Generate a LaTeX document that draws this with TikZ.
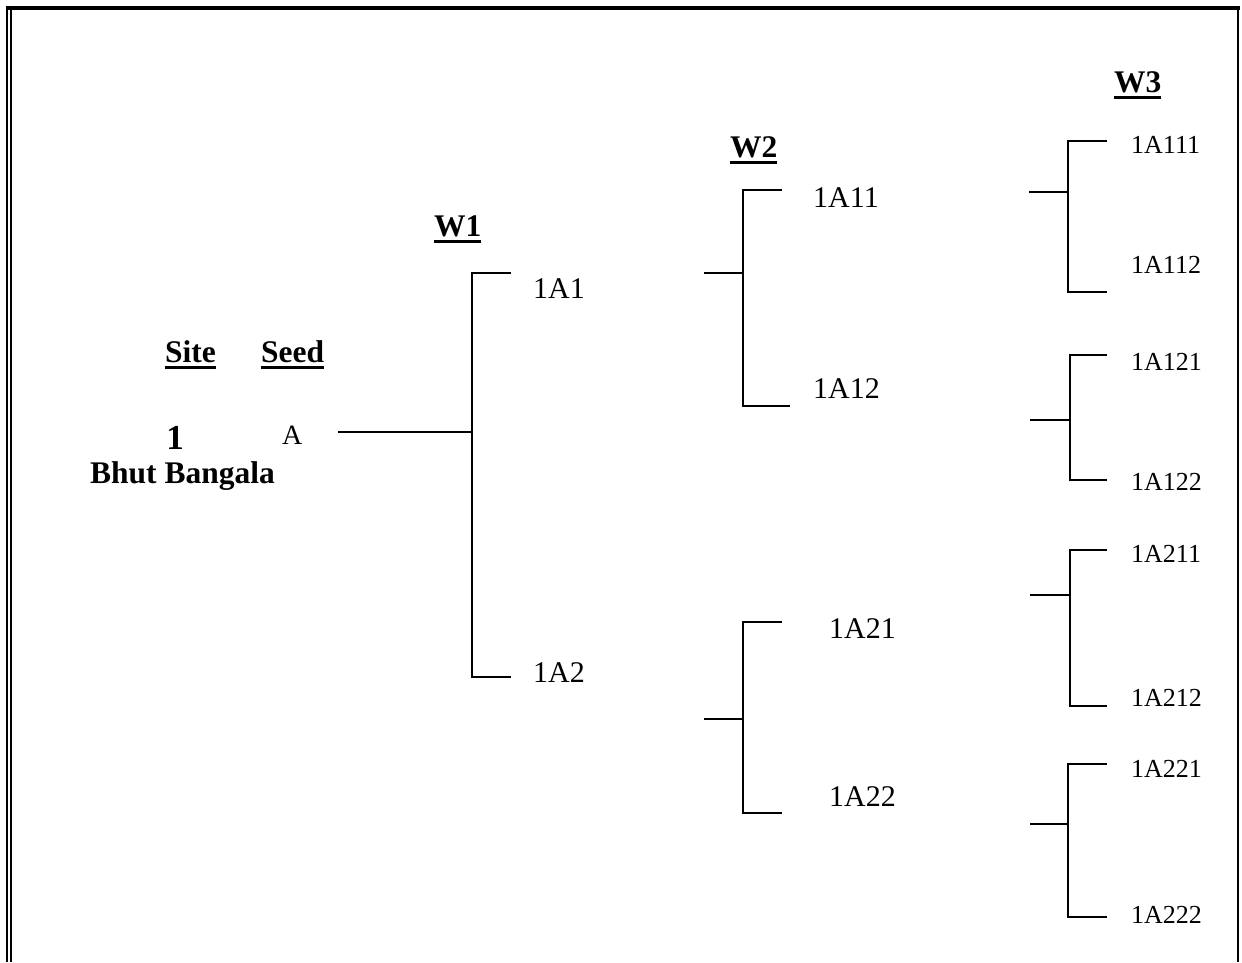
\documentclass[tikz,border=0pt]{standalone}
\usepackage{fontspec}
\setmainfont{Liberation Serif}
\usepackage{tikz}

% bold heading with a heavy underline
\newcommand{\hdul}[1]{\setbox0\hbox{#1}\rlap{\rule[-7pt]{\wd0}{3pt}}\box0}

\begin{document}
\begin{tikzpicture}[x=1pt, y=-1pt,
		lbl_style/.style={anchor=base west, inner sep=0pt, font=\fontsize{30}{36}\selectfont},
		small_style/.style={anchor=base west, inner sep=0pt, font=\fontsize{26}{30}\selectfont},
		head_style/.style={anchor=base west, inner sep=0pt, font=\bfseries\fontsize{31.5}{36}\selectfont},
		edge_style/.style={draw=black, line width=1.6pt}]

		\useasboundingbox (0,0) rectangle (1242,962);

		% frame
		\draw[line width=4pt] (6,8) -- (1240,8);
		\draw[line width=1.6pt] (7,6) -- (7,962);
		\draw[line width=2pt] (10.5,10) -- (10.5,962);
		\draw[line width=2pt] (1238,10) -- (1238,962);

		% headings
		\node[head_style] (site) at (165,362) {\hdul{Site}};
		\node[head_style] (seed) at (261,362) {\hdul{Seed}};
		\node[head_style] (w1) at (434,236) {\hdul{W1}};
		\node[head_style] (w2) at (730,157) {\hdul{W2}};
		\node[head_style] (w3) at (1114,92) {\hdul{W3}};

		% site and seed
		\node[anchor=base, inner sep=0pt, font=\bfseries\fontsize{35}{40}\selectfont] (n1) at (175,449) {1};
		\node[head_style] (bb) at (90,483) {Bhut Bangala};
		\node[lbl_style, font=\fontsize{28}{34}\selectfont] (a) at (282,444) {A};

		% W1
		\node[lbl_style] (n1a1) at (533,298) {1A1};
		\node[lbl_style] (n1a2) at (533,682) {1A2};
		% W2
		\node[lbl_style] (n1a11) at (813,207) {1A11};
		\node[lbl_style] (n1a12) at (813,398) {1A12};
		\node[lbl_style] (n1a21) at (829,638) {1A21};
		\node[lbl_style] (n1a22) at (829,806) {1A22};
		% W3
		\node[small_style] (n1a111) at (1131,153) {1A111};
		\node[small_style] (n1a112) at (1131,273) {1A112};
		\node[small_style] (n1a121) at (1131,370) {1A121};
		\node[small_style] (n1a122) at (1131,490) {1A122};
		\node[small_style] (n1a211) at (1131,562) {1A211};
		\node[small_style] (n1a212) at (1131,706) {1A212};
		\node[small_style] (n1a221) at (1131,777) {1A221};
		\node[small_style] (n1a222) at (1131,923) {1A222};

		% bracket points: s = stem end, j = junction, t/b = tick ends
		\coordinate (s0) at (338,432);   \coordinate (j0) at (472,432);
		\coordinate (t0) at (511,273);   \coordinate (b0) at (511,677);

		\coordinate (s1) at (704,273);   \coordinate (j1) at (743,273);
		\coordinate (t1) at (782,190);   \coordinate (b1) at (790,406);
		\coordinate (s2) at (704,719);   \coordinate (j2) at (743,719);
		\coordinate (t2) at (782,622);   \coordinate (b2) at (782,813);

		\coordinate (s11) at (1029,192); \coordinate (j11) at (1068,192);
		\coordinate (t11) at (1107,141); \coordinate (b11) at (1107,292);
		\coordinate (s12) at (1030,420); \coordinate (j12) at (1070,420);
		\coordinate (t12) at (1107,355); \coordinate (b12) at (1107,480);
		\coordinate (s21) at (1030,595); \coordinate (j21) at (1070,595);
		\coordinate (t21) at (1107,550); \coordinate (b21) at (1107,706);
		\coordinate (s22) at (1030,824); \coordinate (j22) at (1068,824);
		\coordinate (t22) at (1107,764); \coordinate (b22) at (1107,917);

		\draw[edge_style] (s0) -- (j0);
		\draw[edge_style] (t0) -| (j0) |- (b0);

		\draw[edge_style] (s1) -- (j1);
		\draw[edge_style] (t1) -| (j1) |- (b1);
		\draw[edge_style] (s2) -- (j2);
		\draw[edge_style] (t2) -| (j2) |- (b2);

		\draw[edge_style] (s11) -- (j11);
		\draw[edge_style] (t11) -| (j11) |- (b11);
		\draw[edge_style] (s12) -- (j12);
		\draw[edge_style] (t12) -| (j12) |- (b12);
		\draw[edge_style] (s21) -- (j21);
		\draw[edge_style] (t21) -| (j21) |- (b21);
		\draw[edge_style] (s22) -- (j22);
		\draw[edge_style] (t22) -| (j22) |- (b22);

\end{tikzpicture}
\end{document}
